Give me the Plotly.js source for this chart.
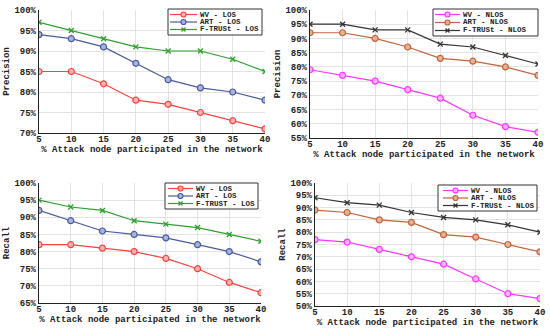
<!DOCTYPE html>
<html><head><meta charset="utf-8">
<script src="https://cdn.plot.ly/plotly-3.0.1.min.js"></script>
<style>body{margin:0;background:#fff}#c{width:550px;height:330px}</style>
</head><body><div id="c"></div>
<script>
const attack = [5,10,15,20,25,30,35,40];
// Precision LOS
const precWvLos = [85,85,82,78,77,75,73,71];
const precArtLos = [94,93,91,87,83,81,80,78];
const precFtLos = [97,95,93,91,90,90,88,85];
// Precision NLOS
const precWvNlos = [79,77,75,72,69,63,59,57];
const precArtNlos = [92,92,90,87,83,82,80,77];
const precFtNlos = [95,95,93,93,88,87,84,81];
// Recall LOS
const recWvLos = [82,82,81,80,78,75,71,68];
const recArtLos = [92,89,86,85,84,82,80,77];
const recFtLos = [95,93,92,89,88,87,85,83];
// Recall NLOS
const recWvNlos = [77,76,73,70,67,61,55,53];
const recArtNlos = [89,88,85,84,79,78,75,72];
const recFtNlos = [94,92,91,88,86,85,83,80];
// legend labels
const namesP1 = ['WV - LOS','ART - LOS','F-TRUSt - LOS'];
const namesP2 = ['WV - NLOS','ART - NLOS','F-TRUSt - NLOS'];
const namesR1 = ['WV - LOS','ART - LOS','F-TRUST - LOS'];
const namesR2 = ['WV - NLOS','ART - NLOS','F-TRUSt - NLOS'];

const FONT = 'Liberation Mono, Courier New, monospace';
const C = {red:'#ff4040', blue:'#4a5a9e', green:'#2ea02e', mag:'#ff33ff', brown:'#c0653a', black:'#333333'};
const F = {red:'#ffb0b0', blue:'#a8b4e0', mag:'#ffb0ff', brown:'#e8b090'};

function circ(x,y,name,col,fill,xa,ya){
  return {x:x,y:y,name:name,type:'scatter',mode:'lines+markers',xaxis:xa,yaxis:ya,showlegend:false,
    line:{color:col,width:1.2},marker:{symbol:'circle',size:6,color:fill,line:{color:col,width:1.2}}};
}
function cross(x,y,name,col,xa,ya){
  return {x:x,y:y,name:name,type:'scatter',mode:'lines+markers',xaxis:xa,yaxis:ya,showlegend:false,
    line:{color:col,width:1.2},marker:{symbol:'x-thin',size:5,color:col,line:{color:col,width:1.3}}};
}
const data = [
  circ(attack,precWvLos,namesP1[0],C.red,F.red,'x','y'),
  circ(attack,precArtLos,namesP1[1],C.blue,F.blue,'x','y'),
  cross(attack,precFtLos,namesP1[2],C.green,'x','y'),
  circ(attack,precWvNlos,namesP2[0],C.mag,F.mag,'x2','y2'),
  circ(attack,precArtNlos,namesP2[1],C.brown,F.brown,'x2','y2'),
  cross(attack,precFtNlos,namesP2[2],C.black,'x2','y2'),
  circ(attack,recWvLos,namesR1[0],C.red,F.red,'x3','y3'),
  circ(attack,recArtLos,namesR1[1],C.blue,F.blue,'x3','y3'),
  cross(attack,recFtLos,namesR1[2],C.green,'x3','y3'),
  circ(attack,recWvNlos,namesR2[0],C.mag,F.mag,'x4','y4'),
  circ(attack,recArtNlos,namesR2[1],C.brown,F.brown,'x4','y4'),
  cross(attack,recFtNlos,namesR2[2],C.black,'x4','y4')
];
const W=550,H=330;
const TF = {family:FONT,size:9,color:'#222',weight:'bold'};
function xax(l,r,anchor){return {domain:[l/W,r/W],anchor:anchor,range:[5,40],tickvals:attack,showgrid:true,gridcolor:'#e3e3e3',
  showline:true,linecolor:'#222',linewidth:1.2,ticks:'',zeroline:false,tickfont:TF,ticklabelstandoff:-3,
  title:{text:'% Attack node participated in the network',font:TF,standoff:0}};}
function yax(t,b,lo,hi,anchor,title){const tv=[],tt=[];for(let v=lo;v<=hi;v+=5){tv.push(v);tt.push(v+'%');}
  return {domain:[1-b/H,1-t/H],anchor:anchor,range:[lo,hi],tickvals:tv,ticktext:tt,showgrid:true,gridcolor:'#e3e3e3',
  showline:true,linecolor:'#222',linewidth:1.2,ticks:'',zeroline:false,tickfont:TF,
  title:{text:title,font:TF,standoff:3}};}

const shapes=[], annotations=[];
const px=v=>v/W, py=v=>1-v/H;
function legend(box, lx0, lx1, tx, ys, names, cols, fills){
  shapes.push({type:'rect',xref:'paper',yref:'paper',x0:px(box[0]),x1:px(box[2]),y0:py(box[3]),y1:py(box[1]),
    line:{color:'#333',width:1},fillcolor:'#fff',layer:'above'});
  for(let i=0;i<3;i++){
    const y=ys[i], mx=(lx0+lx1)/2;
    shapes.push({type:'line',xref:'paper',yref:'paper',x0:px(lx0),x1:px(lx1),y0:py(y),y1:py(y),line:{color:cols[i],width:1.2},layer:'above'});
    if(i<2){
      shapes.push({type:'circle',xref:'paper',yref:'paper',x0:px(mx-2.5),x1:px(mx+2.5),y0:py(y+2.5),y1:py(y-2.5),
        line:{color:cols[i],width:1.2},fillcolor:fills[i],layer:'above'});
    } else {
      shapes.push({type:'line',xref:'paper',yref:'paper',x0:px(mx-2),x1:px(mx+2),y0:py(y-2),y1:py(y+2),line:{color:cols[i],width:1.3},layer:'above'});
      shapes.push({type:'line',xref:'paper',yref:'paper',x0:px(mx-2),x1:px(mx+2),y0:py(y+2),y1:py(y-2),line:{color:cols[i],width:1.3},layer:'above'});
    }
    annotations.push({xref:'paper',yref:'paper',x:px(tx),y:py(y),xanchor:'left',yanchor:'middle',showarrow:false,
      text:names[i],borderpad:0,font:{family:FONT,size:7.5,color:'#222',weight:'bold'}});
  }
}
legend([168,9,262,35],170,197,199,[14.5,22,29.5],namesP1,[C.red,C.blue,C.green],[F.red,F.blue]);
legend([433,9,538,36],435,460,462,[14.5,22.5,30.5],namesP2,[C.mag,C.brown,C.black],[F.mag,F.brown]);
legend([165,183,258,209],168,193,195,[188.5,196,203.5],namesR1,[C.red,C.blue,C.green],[F.red,F.blue]);
legend([438,185,537,211],443,468,470,[190.5,198,205.5],namesR2,[C.mag,C.brown,C.black],[F.mag,F.brown]);

const layout = {
  width:W,height:H,margin:{l:0,r:0,t:0,b:0},paper_bgcolor:'#fff',plot_bgcolor:'#fff',showlegend:false,
  xaxis:xax(39,265,'y'), yaxis:yax(10,133,70,100,'x','Precision'),
  xaxis2:xax(310,538,'y2'), yaxis2:yax(10,138,55,100,'x2','Precision'),
  xaxis3:xax(39,261,'y3'), yaxis3:yax(183,303,65,100,'x3','Recall'),
  xaxis4:xax(315,540,'y4'), yaxis4:yax(183,306,50,100,'x4','Recall'),
  shapes:shapes, annotations:annotations
};
Plotly.newPlot('c',data,layout,{displayModeBar:false,staticPlot:true});
</script></body></html>
